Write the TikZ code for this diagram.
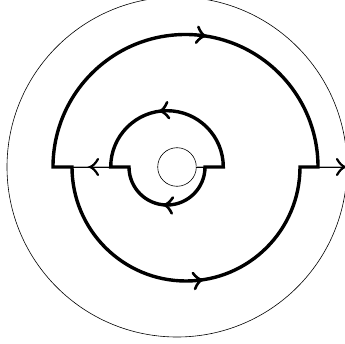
\documentclass[tikz,border=0pt]{standalone}
\usetikzlibrary{calc}
\begin{document}
\begin{tikzpicture}[x=1pt,y=1pt,
  contour/.style={line width=3.4pt, line join=miter},
  thinc/.style={line width=0.6pt},
  cut/.style={double=gray!60, double distance=1pt, line width=0.7pt},
  barb/.pic={\draw[line width=2.6pt, line cap=round, line join=miter]
     (-8,8) .. controls (-5.5,3.5) and (-2.8,0.9) .. (0,0) .. controls (-2.8,-0.9) and (-5.5,-3.5) .. (-8,-8);},
  cutbarb/.pic={\draw[line width=2.2pt, line cap=round, line join=miter]
     (-8,8) .. controls (-5.5,3.5) and (-2.8,0.9) .. (0,0) .. controls (-2.8,-0.9) and (-5.5,-3.5) .. (-8,-8);}]
\useasboundingbox (0,0) rectangle (345,343);
\clip (0,0) rectangle (345,343);
\coordinate (O) at (177,176);
\coordinate (C1) at (185.5,176);
\coordinate (C2) at (186,176);
\coordinate (C3) at (167,176);
% outer and inner circles
\draw[thinc] (O) circle[radius=170];
\draw[thinc] (O) circle[radius=19.3];
% named points on the axis
\coordinate (A1) at (53,176);
\coordinate (A2) at (72,176);
\coordinate (A3) at (110.7,176);
\coordinate (A4) at (129,176);
\coordinate (A5) at (196.3,176);
\coordinate (A6) at (205,176);
\coordinate (A7) at (223.3,176);
\coordinate (A8) at (300,176);
\coordinate (A9) at (318,176);
\coordinate (A10) at (344,176);
% cuts
\draw[cut] (A2) -- (A3);
\draw[cut] (A5) -- (A6);
\draw[cut] (A9) -- (A10);
% contour pieces
\draw[contour] (A2) -- (A1) arc[start angle=180, end angle=0, radius=132.5] -- (A8)
  arc[start angle=0, end angle=-180, radius=114] -- cycle;
\draw[contour] (A4) -- (A3) arc[start angle=180, end angle=0, radius=56.3] -- (A6)
  arc[start angle=0, end angle=-180, radius=38] -- cycle;
% arrow heads on arcs
\coordinate (T1) at ($(C1)+(81.5:132.5)$);
\coordinate (T2) at ($(C2)+(-82:114)$);
\coordinate (T3) at ($(C3)+(97:56.3)$);
\coordinate (T4) at ($(C3)+(-94:38)$);
\pic[rotate=-8.5] at (T1) {barb};
\pic[rotate=8] at (T2) {barb};
\pic[rotate=187] at (T3) {barb};
\pic[rotate=176] at (T4) {barb};
% arrow heads on cuts
\coordinate (L2) at (90,176);
\coordinate (R2) at (345,176);
\pic[rotate=180] at (L2) {cutbarb};
\pic at (R2) {cutbarb};
\end{tikzpicture}
\end{document}
